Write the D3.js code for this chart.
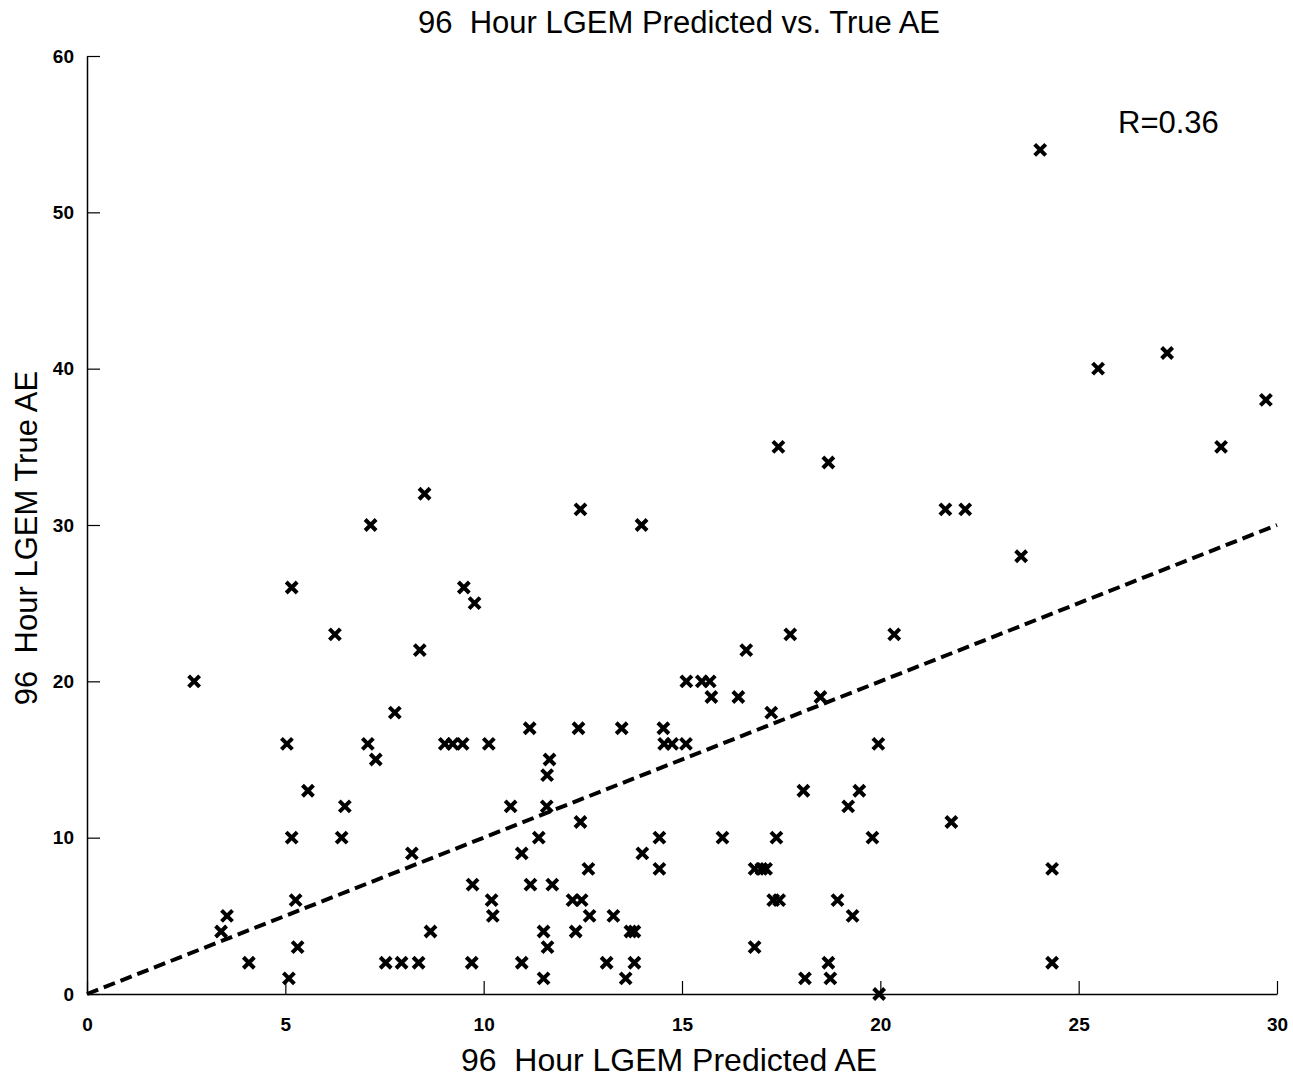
<!DOCTYPE html>
<html>
<head>
<meta charset="utf-8">
<script src="https://cdn.jsdelivr.net/npm/d3@7"></script>
<style>
  html, body { margin: 0; padding: 0; background: #fff; }
  svg { display: block; }
  text { font-family: "Liberation Sans", Arial, Helvetica, sans-serif; fill: #000; }
</style>
</head>
<body>
<svg id="chart" width="1293" height="1077"></svg>
<script>
// ---- data ----
const predictedAE = [
  2.7, 3.38, 3.53, 4.08, 5.09, 5.04, 5.16, 5.16, 5.26, 5.31,
  5.57, 6.25, 6.5, 6.42, 7.15, 7.08, 7.28, 7.53, 7.76, 7.93,
  8.19, 8.36, 8.39, 8.51, 8.66, 9.02, 9.22, 9.47, 10.13, 9.5,
  9.77, 9.72, 10.2, 10.23, 9.7,
  12.44, 13.98, 11.16, 12.39, 13.48, 14.53, 11.66, 11.6, 14.55, 14.75,
  15.1, 15.11, 15.5, 15.7, 15.74, 16.42, 16.62, 17.73, 17.25, 18.49,
  19.95, 20.35, 17.43, 18.69,
  10.68, 11.59, 12.44, 11.39, 10.96, 11.18, 11.73, 12.24, 12.47, 12.67,
  13.27, 12.32, 11.51, 11.61, 11.51, 10.96, 13.1, 13.8, 13.58, 13.7,
  13.8, 12.64, 14.0, 14.43, 14.43, 16.02, 17.38, 16.83, 17.0, 17.12,
  17.3, 17.45, 16.83, 18.06, 19.47, 19.19, 19.8, 18.92, 19.3, 18.1,
  18.69, 18.74, 19.97,
  24.03, 25.49, 27.23, 29.72, 28.59, 21.64, 22.14, 23.55, 21.79, 24.33, 24.33
];
const trueAE = [
  20, 4, 5, 2, 1, 16, 26, 10, 6, 3,
  13, 23, 12, 10, 30, 16, 15, 2, 18, 2,
  9, 2, 22, 32, 4, 16, 16, 16, 16, 26,
  25, 7, 6, 5, 2,
  31, 30, 17, 17, 17, 17, 15, 14, 16, 16,
  16, 20, 20, 20, 19, 19, 22, 23, 18, 19,
  16, 23, 35, 34,
  12, 12, 11, 10, 9, 7, 7, 6, 6, 5,
  5, 4, 4, 3, 1, 2, 2, 2, 1, 4,
  4, 8, 9, 10, 8, 10, 10, 8, 8, 8,
  6, 6, 3, 13, 13, 12, 10, 6, 5, 1,
  2, 1, 0,
  54, 40, 41, 38, 35, 31, 31, 28, 11, 8, 2
];
const fitLine = [[0, 0], [30, 30]];
const xTicks = [0, 5, 10, 15, 20, 25, 30];
const yTicks = [0, 10, 20, 30, 40, 50, 60];
const titleText = "96\u00a0 Hour LGEM Predicted vs. True AE";
const xLabelText = "96\u00a0 Hour LGEM Predicted AE";
const yLabelText = "96\u00a0 Hour LGEM True AE";
const rText = "R=0.36";

// ---- layout ----
const svg = d3.select("#chart");
const margin = { left: 87, right: 1277, top: 56, bottom: 994 };
const x = d3.scaleLinear().domain([0, 30]).range([margin.left, margin.right]);
const y = d3.scaleLinear().domain([0, 60]).range([margin.bottom, margin.top]);

// x axis (ticks inward)
const xAxis = svg.append("g")
  .attr("transform", `translate(0,${margin.bottom})`)
  .call(d3.axisBottom(x).tickValues(xTicks).tickSizeInner(-13).tickSizeOuter(0).tickPadding(30));
xAxis.select(".domain").attr("stroke", "#000").attr("stroke-width", 1.5);
xAxis.selectAll(".tick line").attr("stroke", "#000").attr("stroke-width", 1.2);
xAxis.selectAll(".tick text")
  .style("font-size", "19px").style("font-weight", "bold")
  .attr("font-family", "'Liberation Sans', Arial, sans-serif")
  .attr("fill", "#000").attr("dy", "0.35em");

// y axis (ticks inward)
const yAxis = svg.append("g")
  .attr("transform", `translate(${margin.left},0)`)
  .call(d3.axisLeft(y).tickValues(yTicks).tickSizeInner(-13).tickSizeOuter(0).tickPadding(13));
yAxis.select(".domain").attr("stroke", "#000").attr("stroke-width", 1.5);
yAxis.selectAll(".tick text")
  .style("font-size", "19px").style("font-weight", "bold")
  .attr("font-family", "'Liberation Sans', Arial, sans-serif")
  .attr("fill", "#000");
yAxis.selectAll(".tick line").attr("stroke", "#000").attr("stroke-width", 1.2);

// fit line (dashed)
svg.append("path")
  .datum(fitLine)
  .attr("d", d3.line().x(d => x(d[0])).y(d => y(d[1])))
  .attr("fill", "none")
  .attr("stroke", "#000")
  .attr("stroke-width", 4)
  .attr("stroke-dasharray", "12,6");

// markers (x)
const pts = predictedAE.map((v, i) => [v, trueAE[i]]);
const s = 5.5;
svg.append("g").selectAll("path")
  .data(pts)
  .join("path")
  .attr("d", d => {
    const cx = x(d[0]), cy = y(d[1]);
    return `M${cx - s},${cy - s}L${cx + s},${cy + s}M${cx - s},${cy + s}L${cx + s},${cy - s}`;
  })
  .attr("stroke", "#000")
  .attr("stroke-width", 4)
  .attr("fill", "none");

// texts
svg.append("text")
  .attr("x", 679).attr("y", 33)
  .attr("text-anchor", "middle")
  .style("font-size", "31px")
  .text(titleText);

svg.append("text")
  .attr("x", 669).attr("y", 1071)
  .attr("text-anchor", "middle")
  .style("font-size", "32px")
  .text(xLabelText);

svg.append("text")
  .attr("transform", `translate(37,538) rotate(-90)`)
  .attr("text-anchor", "middle")
  .style("font-size", "31px")
  .text(yLabelText);

svg.append("text")
  .attr("x", 1118).attr("y", 133)
  .style("font-size", "31px")
  .text(rText);
</script>
</body>
</html>
